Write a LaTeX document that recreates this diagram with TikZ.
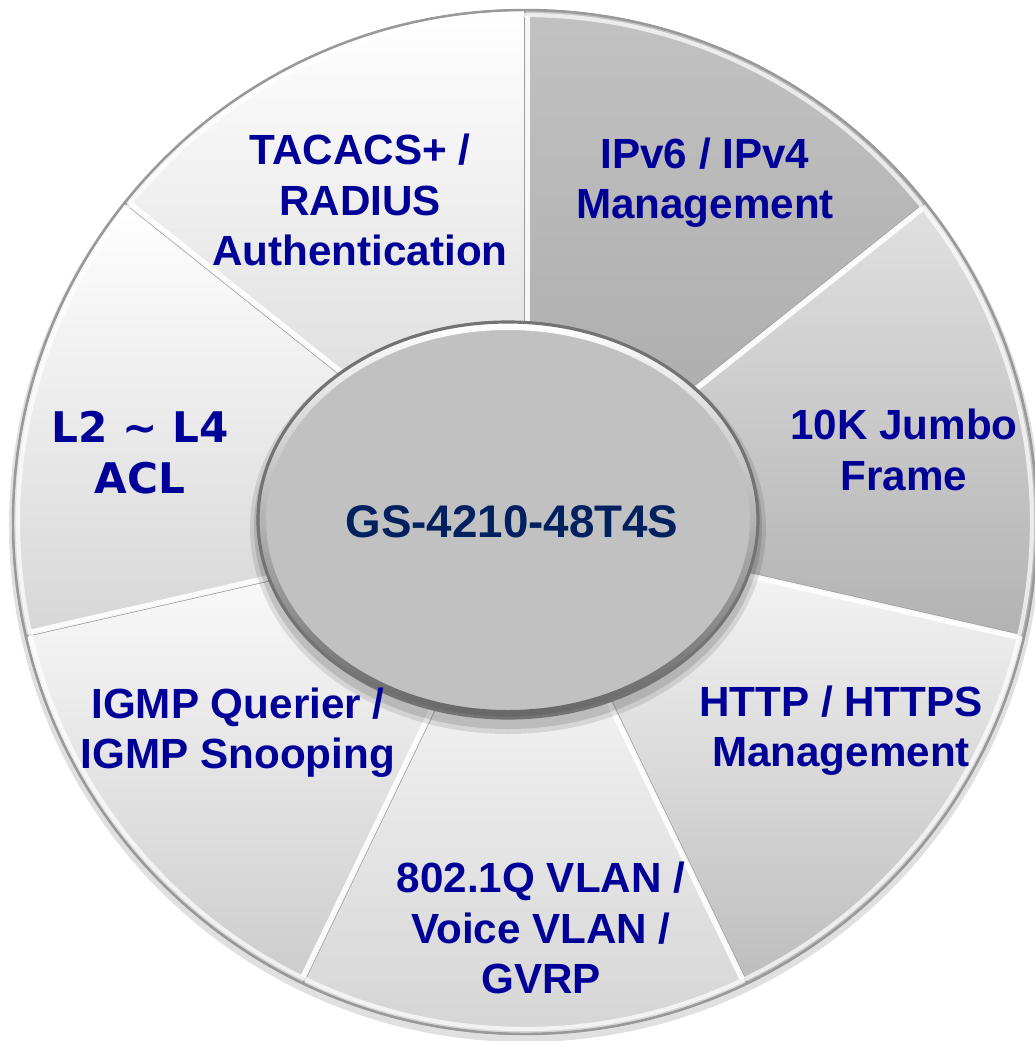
\documentclass[tikz,border=0pt]{standalone}
\usepackage{fontspec}
\setmainfont{Liberation Sans}
\newfontfamily\verdanalike{DejaVu Sans}
\definecolor{lbl}{RGB}{0,0,153}
\definecolor{hubtxt}{RGB}{0,32,96}
\definecolor{hubfill}{RGB}{193,193,193}
\begin{document}
\begin{tikzpicture}[x=0.01cm,y=0.01cm,
  lbl/.style={text=lbl, font=\fontsize{12}{14.3}\selectfont\bfseries, align=center, inner sep=0pt},
  slice/.style={draw=black!38, line width=0.5pt},
  seam/.style={white, line width=1.6pt, opacity=0.9},
]
\useasboundingbox (-525,-519) rectangle (510,522);
% soft outer shadow of the disc
\fill[black!12] (0,-4) circle[radius=516];
% slices (angles counter-clockwise from east)
\shade[slice, top color=black!24, bottom color=black!34]
  (0,0) -- (38.571:512) arc[start angle=38.571, end angle=90, radius=512] -- cycle;
\shade[slice, top color=black!12, bottom color=black!30]
  (0,0) -- (-12.857:512) arc[start angle=-12.857, end angle=38.571, radius=512] -- cycle;
\shade[slice, top color=black!2, bottom color=black!26]
  (0,0) -- (-64.286:512) arc[start angle=-64.286, end angle=-12.857, radius=512] -- cycle;
\shade[slice, top color=white, bottom color=black!17]
  (0,0) -- (-115.714:512) arc[start angle=-115.714, end angle=-64.286, radius=512] -- cycle;
\shade[slice, top color=white, bottom color=black!20]
  (0,0) -- (-167.143:512) arc[start angle=-167.143, end angle=-115.714, radius=512] -- cycle;
\shade[slice, top color=white, bottom color=black!16]
  (0,0) -- (141.429:512) arc[start angle=141.429, end angle=192.857, radius=512] -- cycle;
\shade[slice, top color=white, bottom color=black!17]
  (0,0) -- (90:512) arc[start angle=90, end angle=141.429, radius=512] -- cycle;
% bevel highlights along the seams
\foreach \b in {90,38.571,-12.857,-64.286,-115.714,-167.143,141.429}{
  \draw[seam] ([shift={(\b-90:2.5)}]0,0) -- ([shift={(\b-90:2.5)}]\b:506);
}
% rim of the disc
\draw[black!40, line width=0.7pt] (0,0) circle[radius=512];
\draw[white, opacity=0.7, line width=1.2pt] (0,0) circle[radius=507];
% hub shadow
\fill[black, opacity=0.10] (-17,-6) ellipse[x radius=258, y radius=206];
\fill[black, opacity=0.12] (-17,-5) ellipse[x radius=254, y radius=202];
% hub
\fill[hubfill] (-17,2) ellipse[x radius=250, y radius=198];
\shade[top color=white, bottom color=black!60, even odd rule]
  (-17,2) ellipse[x radius=250, y radius=198]
  (-17,2) ellipse[x radius=242, y radius=190];
\draw[black!55, line width=0.9pt] (-17,2) ellipse[x radius=250, y radius=198];
\node (hub) at (-13,0) [text=hubtxt, font=\fontsize{13}{15}\selectfont\bfseries, inner sep=0pt] {GS-4210-48T4S};
% labels
\node[lbl] (tacacs) at (-165,322) {TACACS+ /\\RADIUS\\Authentication};
\node[lbl] (ipv6) at (180,339) {IPv6 / IPv4\\Management};
\node[lbl] (jumbo) at (379,72) {10K Jumbo\\Frame};
\node[lbl] (http) at (316,-209) {HTTP / HTTPS\\Management};
\node[lbl] (vlan) at (16,-406) {802.1Q VLAN /\\Voice VLAN /\\GVRP};
\node[lbl] (igmp) at (-287,-211) {IGMP Querier /\\IGMP Snooping};
\node[lbl, font=\verdanalike\fontsize{12}{14.5}\selectfont\bfseries] (acl) at (-385,69) {L2 \textasciitilde{} L4\\ACL};
\end{tikzpicture}
\end{document}
